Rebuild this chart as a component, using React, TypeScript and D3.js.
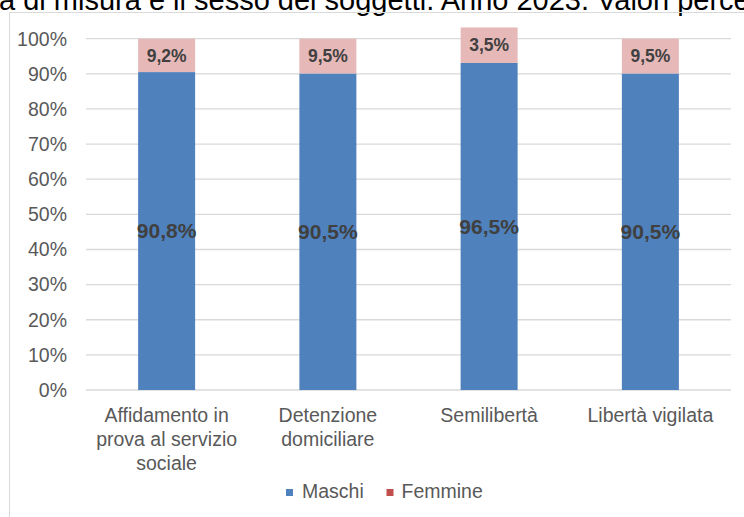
import React from "react";
import * as d3 from "d3";

const categories = [
  ["Affidamento in", "prova al servizio", "sociale"],
  ["Detenzione", "domiciliare"],
  ["Semilibertà"],
  ["Libertà vigilata"],
];
// bar heights as drawn in the picture (%)
const maschiHeights = [90.5, 90.1, 93.1, 90.1];
const femmineHeights = [9.5, 9.9, 10.1, 9.9];
// values printed on the bars
const maschiLabels = [90.8, 90.5, 96.5, 90.5];
const femmineLabels = [9.2, 9.5, 3.5, 9.5];
const yTicks = [0, 10, 20, 30, 40, 50, 60, 70, 80, 90, 100];
const seriesNames = ["Maschi", "Femmine"];
const titleText = "a di misura e il sesso dei soggetti. Anno 2023. Valori percentuali";

const W = 744;
const H = 517;
const FONT = "Arial, 'Liberation Sans', sans-serif";

const fmt = (v: number) => v.toFixed(1).replace(".", ",") + "%";

export default function App() {
  const x = d3
    .scaleBand<number>()
    .domain(categories.map((_, i) => i))
    .range([86, 731])
    .paddingInner(0.6465)
    .paddingOuter(0.6465 / 2);
  const y = d3.scaleLinear().domain([0, 100]).range([390, 38.7]);
  const bw = x.bandwidth();

  return (
    <svg
      width={W}
      height={H}
      style={{ position: "fixed", left: 0, top: 0, background: "#fff" }}
      fontFamily={FONT}
    >
      <rect x={0} y={0} width={W} height={H} fill="#fff" />
      <text x={-1} y={10} fontSize={29} fill="#000">
        {titleText}
      </text>
      <rect x={9.5} y={12.5} width={900} height={700} fill="none" stroke="#d9d9d9" strokeWidth={1} />

      {yTicks.map((t) => (
        <g key={t}>
          <line x1={86} x2={731} y1={y(t)} y2={y(t)} stroke="#d9d9d9" strokeWidth={1.3} />
          <text
            x={67}
            y={y(t)}
            dy="0.35em"
            textAnchor="end"
            fontSize={19.5}
            fill="#595959"
          >
            {t}%
          </text>
        </g>
      ))}

      {categories.map((c, i) => {
        const x0 = x(i) as number;
        const m = maschiHeights[i];
        const f = femmineHeights[i];
        const cx = x0 + bw / 2;
        return (
          <g key={i}>
            <rect x={x0} y={y(m)} width={bw} height={y(0) - y(m)} fill="#4F81BD" />
            <rect x={x0} y={y(m + f)} width={bw} height={y(m) - y(m + f)} fill="#E6B9B8" />
            <text
              x={cx}
              y={(y(0) + y(m)) / 2}
              dy="0.35em"
              textAnchor="middle"
              fontSize={21}
              fontWeight="bold"
              fill="#404040"
            >
              {fmt(maschiLabels[i])}
            </text>
            <text
              x={cx}
              y={(y(m) + y(m + f)) / 2}
              dy="0.35em"
              textAnchor="middle"
              fontSize={17.5}
              fontWeight="bold"
              fill="#404040"
            >
              {fmt(femmineLabels[i])}
            </text>
            {c.map((line, j) => (
              <text
                key={j}
                x={cx}
                y={421.5 + j * 24.3}
                textAnchor="middle"
                fontSize={19.5}
                fill="#595959"
              >
                {line}
              </text>
            ))}
          </g>
        );
      })}

      <g>
        <rect x={286} y={489} width={7} height={7} fill="#4F81BD" />
        <text x={302} y={498} fontSize={19.5} fill="#595959">
          {seriesNames[0]}
        </text>
        <rect x={386.5} y={489} width={7} height={7} fill="#C0504D" />
        <text x={401.5} y={498} fontSize={19.5} fill="#595959">
          {seriesNames[1]}
        </text>
      </g>
    </svg>
  );
}
